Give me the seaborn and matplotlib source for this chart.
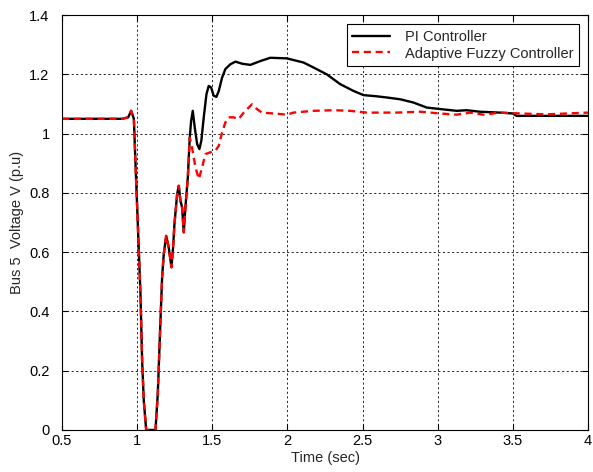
import numpy as np
import pandas as pd
import matplotlib
matplotlib.use("Agg")
import matplotlib.pyplot as plt
import seaborn as sns

# PI controller trace
pi_t = [0.5, 0.9, 0.94, 0.96, 0.978, 0.989, 1.0, 1.011, 1.022, 1.033, 1.044, 1.06, 1.122,
        1.137, 1.155, 1.166, 1.177, 1.193, 1.21, 1.228, 1.239, 1.248, 1.266, 1.277, 1.288,
        1.299, 1.31, 1.321, 1.337, 1.35, 1.359, 1.37, 1.383, 1.399, 1.414, 1.427, 1.443,
        1.461, 1.476, 1.492, 1.509, 1.527, 1.543, 1.565, 1.587, 1.62, 1.654, 1.698, 1.753,
        1.82, 1.886, 1.996, 2.107, 2.174, 2.262, 2.351, 2.44, 2.506, 2.594, 2.661, 2.75,
        2.838, 2.927, 3.015, 3.126, 3.192, 3.28, 3.413, 3.5, 3.524, 3.75, 4.0]
pi_v = [1.05, 1.05, 1.055, 1.077, 1.05, 0.897, 0.751, 0.605, 0.459, 0.234, 0.099, 0.0, 0.0,
        0.121, 0.369, 0.515, 0.594, 0.655, 0.616, 0.549, 0.616, 0.695, 0.796, 0.824, 0.773,
        0.751, 0.667, 0.751, 0.852, 0.987, 1.043, 1.077, 1.021, 0.965, 0.948, 0.976, 1.055,
        1.133, 1.161, 1.156, 1.128, 1.124, 1.144, 1.189, 1.218, 1.234, 1.243, 1.236, 1.232,
        1.245, 1.256, 1.254, 1.24, 1.223, 1.2, 1.167, 1.144, 1.13, 1.126, 1.122, 1.116,
        1.105, 1.088, 1.083, 1.077, 1.079, 1.074, 1.071, 1.068, 1.06, 1.06, 1.06]

# Adaptive fuzzy controller trace
af_t = [0.5, 0.9, 0.94, 0.96, 0.978, 0.989, 1.0, 1.011, 1.022, 1.033, 1.044, 1.06, 1.122,
        1.137, 1.155, 1.166, 1.177, 1.193, 1.21, 1.228, 1.239, 1.248, 1.266, 1.277, 1.288,
        1.299, 1.31, 1.321, 1.337, 1.35, 1.365, 1.388, 1.41, 1.432, 1.454, 1.487, 1.52,
        1.543, 1.565, 1.587, 1.609, 1.642, 1.675, 1.709, 1.742, 1.764, 1.797, 1.83, 1.908,
        1.997, 2.04, 2.174, 2.306, 2.417, 2.528, 2.617, 2.728, 2.883, 3.015, 3.126, 3.214,
        3.303, 3.413, 3.5, 3.72, 4.0]
af_v = [1.05, 1.05, 1.055, 1.077, 1.05, 0.897, 0.751, 0.605, 0.459, 0.234, 0.099, 0.0, 0.0,
        0.121, 0.369, 0.515, 0.594, 0.655, 0.616, 0.549, 0.616, 0.695, 0.796, 0.824, 0.773,
        0.751, 0.667, 0.751, 0.852, 0.987, 0.953, 0.886, 0.847, 0.886, 0.931, 0.937, 0.942,
        0.959, 1.004, 1.038, 1.055, 1.055, 1.049, 1.071, 1.088, 1.099, 1.083, 1.071, 1.068,
        1.064, 1.071, 1.077, 1.079, 1.077, 1.071, 1.071, 1.071, 1.074, 1.068, 1.064, 1.071,
        1.064, 1.071, 1.069, 1.065, 1.071]

labels = ["PI Controller", "Adaptive Fuzzy Controller"]
x_ticks = [0.5, 1, 1.5, 2, 2.5, 3, 3.5, 4]
x_tick_labels = ["0.5", "1", "1.5", "2", "2.5", "3", "3.5", "4"]
y_ticks = [0, 0.2, 0.4, 0.6, 0.8, 1.0, 1.2, 1.4]
y_tick_labels = ["0", "0.2", "0.4", "0.6", "0.8", "1", "1.2", "1.4"]

df = pd.concat([
    pd.DataFrame({"t": pi_t, "v": pi_v, "ctrl": labels[0]}),
    pd.DataFrame({"t": af_t, "v": af_v, "ctrl": labels[1]}),
], ignore_index=True)

sns.set_style("white")
plt.rcParams['font.family'] = ['Liberation Sans', 'DejaVu Sans']

fig = plt.figure(figsize=(5.93, 4.72), dpi=100)
ax = fig.add_axes([0.1046, 0.089, 0.887, 0.879])

sns.lineplot(data=df, x="t", y="v", hue="ctrl", style="ctrl",
             palette={labels[0]: "black", labels[1]: "red"},
             dashes={labels[0]: "", labels[1]: (3, 2)},
             linewidth=1.7, sort=False, estimator=None, ax=ax)

ax.set_xlim(0.5, 4)
ax.set_ylim(0, 1.4)
ax.set_xticks(x_ticks)
ax.set_xticklabels(x_tick_labels)
ax.set_yticks(y_ticks)
ax.set_yticklabels(y_tick_labels)
ax.tick_params(direction="in", length=4, width=0.8, labelsize=10.5, colors="black",
               top=True, right=True, bottom=True, left=True)
ax.tick_params(axis="y", pad=9)
ax.tick_params(axis="x", pad=3)
ax.grid(True, color="black", linestyle=(0, (2.5, 3)), linewidth=0.6)
for s in ax.spines.values():
    s.set_color("black")
    s.set_linewidth(0.8)
ax.set_xlabel("Time (sec)", fontsize=10.5, labelpad=2)
ax.set_ylabel("Bus 5  Voltage V (p.u)", fontsize=10.5, labelpad=4)

leg = ax.legend(loc="upper right", fontsize=10.5, frameon=True, fancybox=False,
                edgecolor="black", framealpha=1, handlelength=2.6, handletextpad=1.0,
                borderaxespad=0.6, borderpad=0.4, labelspacing=0.2)
leg.get_frame().set_linewidth(0.8)

fig.savefig("out.png", dpi=100)
